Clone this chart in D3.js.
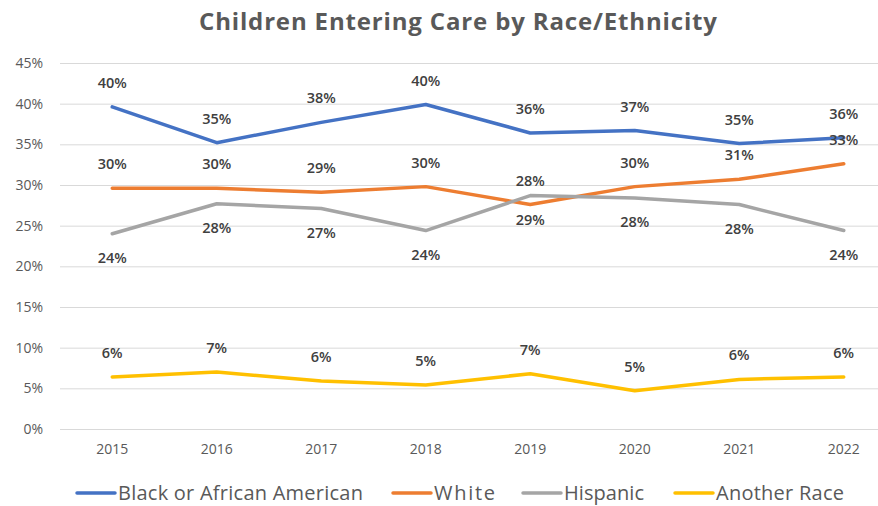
<!DOCTYPE html>
<html>
<head>
<meta charset="utf-8">
<script src="https://cdn.jsdelivr.net/npm/d3@7"></script>
<style>
  body { margin: 0; background: #fff; }
  svg { display: block; }
</style>
</head>
<body>
<div class="chart"></div>
<script>
// Chart data
var years = ["2015", "2016", "2017", "2018", "2019", "2020", "2021", "2022"];
var seriesNames = ["Black or African American", "White", "Hispanic", "Another Race"];
var black = [0.396, 0.352, 0.377, 0.399, 0.364, 0.367, 0.351, 0.358];
var white = [0.296, 0.296, 0.291, 0.298, 0.276, 0.298, 0.307, 0.326];
var hispanic = [0.240, 0.277, 0.271, 0.244, 0.287, 0.284, 0.276, 0.244];
var another = [0.064, 0.070, 0.059, 0.054, 0.068, 0.047, 0.061, 0.064];
var yTicks = [0, 0.05, 0.10, 0.15, 0.20, 0.25, 0.30, 0.35, 0.40, 0.45];

var colors = ["#4472C4", "#ED7D31", "#A5A5A5", "#FFC000"];
// label above (-1) or below (+1) the line
var labelSide = [-1, -1, 1, -1];

var svgWidth = 878;
var svgHeight = 506;

var margin = { top: 63, right: -18, bottom: 77, left: 60 };
var width = svgWidth - margin.left - margin.right;
var height = svgHeight - margin.top - margin.bottom;

var svg = d3.select(".chart")
    .append("svg")
    .attr("width", svgWidth)
    .attr("height", svgHeight);

// Title
svg.append("text")
    .attr("x", 458)
    .attr("y", 30)
    .attr("text-anchor", "middle")
    .attr("textLength", 518)
    .attr("lengthAdjust", "spacing")
    .style("font-family", "'Open Sans', sans-serif")
    .style("font-size", "24px")
    .style("font-weight", "bold")
    .style("fill", "#595959")
    .text("Children Entering Care by Race/Ethnicity");

var chartGroup = svg.append("g")
    .attr("transform", `translate(${margin.left}, ${margin.top})`);

var xScale = d3.scaleBand()
    .domain(years)
    .range([0, width]);

var yScale = d3.scaleLinear()
    .domain([0, 0.45])
    .range([height, 0]);

var xPos = d => xScale(d) + xScale.bandwidth() / 2;

// Gridlines and y tick labels
var leftAxis = d3.axisLeft(yScale)
    .tickValues(yTicks)
    .tickFormat(d3.format(".0%"))
    .tickSize(-width)
    .tickPadding(17);

var yAxisG = chartGroup.append("g").call(leftAxis);
yAxisG.select(".domain").remove();
yAxisG.selectAll(".tick line").attr("stroke", "#D9D9D9").attr("stroke-width", 1);
yAxisG.selectAll(".tick text")
    .style("font-family", "'Open Sans', sans-serif")
    .style("font-size", "14px")
    .style("fill", "#595959");

// x labels
var bottomAxis = d3.axisBottom(xScale).tickSize(0).tickPadding(15);
var xAxisG = chartGroup.append("g")
    .attr("transform", `translate(0, ${height})`)
    .call(bottomAxis);
xAxisG.select(".domain").remove();
xAxisG.selectAll(".tick text")
    .style("font-family", "'Open Sans', sans-serif")
    .style("font-size", "14px")
    .style("fill", "#595959");

var allSeries = [black, white, hispanic, another];

var line = d3.line()
    .x((d, i) => xPos(years[i]))
    .y(d => yScale(d));

chartGroup.selectAll(".series")
    .data(allSeries)
    .enter()
    .append("path")
    .attr("class", "series")
    .attr("d", d => line(d))
    .attr("fill", "none")
    .attr("stroke", (d, i) => colors[i])
    .attr("stroke-width", 3.5)
    .attr("stroke-linejoin", "round")
    .attr("stroke-linecap", "round");

// Data labels
var fmt = d3.format(".0%");
allSeries.forEach(function(values, s) {
    chartGroup.append("g")
        .selectAll("text")
        .data(values)
        .enter()
        .append("text")
        .attr("x", (d, i) => xPos(years[i]))
        .attr("y", d => yScale(d) + labelSide[s] * 24)
        .attr("dy", "0.35em")
        .attr("text-anchor", "middle")
        .style("font-family", "'Open Sans', sans-serif")
        .style("font-size", "14.5px")
        .style("font-weight", "600")
        .style("fill", "#404040")
        .text(d => fmt(d));
});

// Legend
var legendX = [77, 393, 523, 675];
var legendTextWidth = [245, 61, 80, 128];
var legend = svg.append("g").attr("transform", "translate(0, 493)");
seriesNames.forEach(function(name, i) {
    legend.append("line")
        .attr("x1", legendX[i])
        .attr("x2", legendX[i] + 38)
        .attr("stroke", colors[i])
        .attr("stroke-width", 3.5)
        .attr("stroke-linecap", "round");
    legend.append("text")
        .attr("x", legendX[i] + 41)
        .attr("dy", "0.35em")
        .attr("textLength", legendTextWidth[i])
        .attr("lengthAdjust", "spacing")
        .style("font-family", "'Open Sans', sans-serif")
        .style("font-size", "20px")
        .style("fill", "#595959")
        .text(name);
});
</script>
</body>
</html>
